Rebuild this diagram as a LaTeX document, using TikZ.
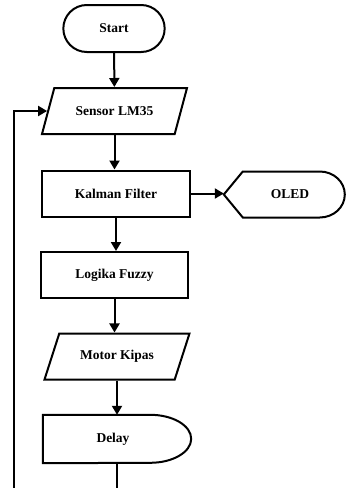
\documentclass[tikz,border=0pt]{standalone}
\usepackage{fontspec}
\setmainfont{Liberation Serif}
\usetikzlibrary{shapes.geometric,shapes.misc,arrows.meta,calc}

\tikzset{
	box/.style={draw, line width=2pt, minimum height=46pt, font=\fontsize{13.5}{16}\selectfont\bfseries},
	proc/.style={box, rectangle, minimum width=148pt},
	io/.style={box, trapezium, trapezium left angle=52, trapezium right angle=128,
		trapezium stretches body, minimum width=145pt},
	term/.style={box, rounded rectangle, minimum width=108pt, minimum height=47pt},
	txt/.style={font=\fontsize{13.5}{16}\selectfont\bfseries},
	flow/.style={line width=2pt, -{Triangle[length=9pt,width=10pt]}},
	line/.style={line width=2pt}
}

\begin{document}
\begin{tikzpicture}[x=1pt,y=1pt]

	\useasboundingbox (0,0) rectangle (346,-488);

	\node[term] (start)  at (114,-28.5) {Start};
	\node[io]   (sensor) at (114.5,-111) {Sensor LM35};
	\node[proc] (kalman) at (116,-193.5) {Kalman Filter};
	\node[proc, minimum width=147pt] (fuzzy) at (114.5,-275) {Logika Fuzzy};
	\node[io]   (motor)  at (117,-356.5) {Motor Kipas};

	% delay and display are drawn by hand
	\node[txt, minimum width=148pt, minimum height=48pt] (delay) at (117,-439) {};
	\node[txt] at (113,-439) {Delay};
	\draw[line] (delay.north west) -- ($(delay.north east)+(-41,0)$)
		arc[start angle=90, end angle=-90, x radius=41pt, y radius=24pt]
		-- (delay.south west) -- cycle;

	\node[txt, minimum width=121pt, minimum height=46pt] (oled) at (284.5,-194.5) {};
	\node[txt] at (290,-194) {OLED};
	\draw[line] (oled.west) -- ++(19,23) -- ++(77,0)
		arc[start angle=90, end angle=-90, x radius=25pt, y radius=23pt]
		-- ++(-77,0) -- cycle;

	\coordinate (loop) at (14,-490);
	\coordinate (bottom) at (115,-490);

	\draw[flow] (start) -- (sensor);
	\draw[flow] (sensor.south) -- (sensor.south |- kalman.north);
	\draw[flow] (kalman.east) -- (kalman.east -| oled.west);
	\draw[flow] (kalman.south) -- (kalman.south |- fuzzy.north);
	\draw[flow] (fuzzy.south) -- (fuzzy.south |- motor.north);
	\draw[flow] (motor.south) -- (motor.south |- delay.north);
	\draw[line] (delay.south) -- (delay.south |- bottom);
	\draw[flow] (loop) |- (sensor.west);

\end{tikzpicture}
\end{document}
